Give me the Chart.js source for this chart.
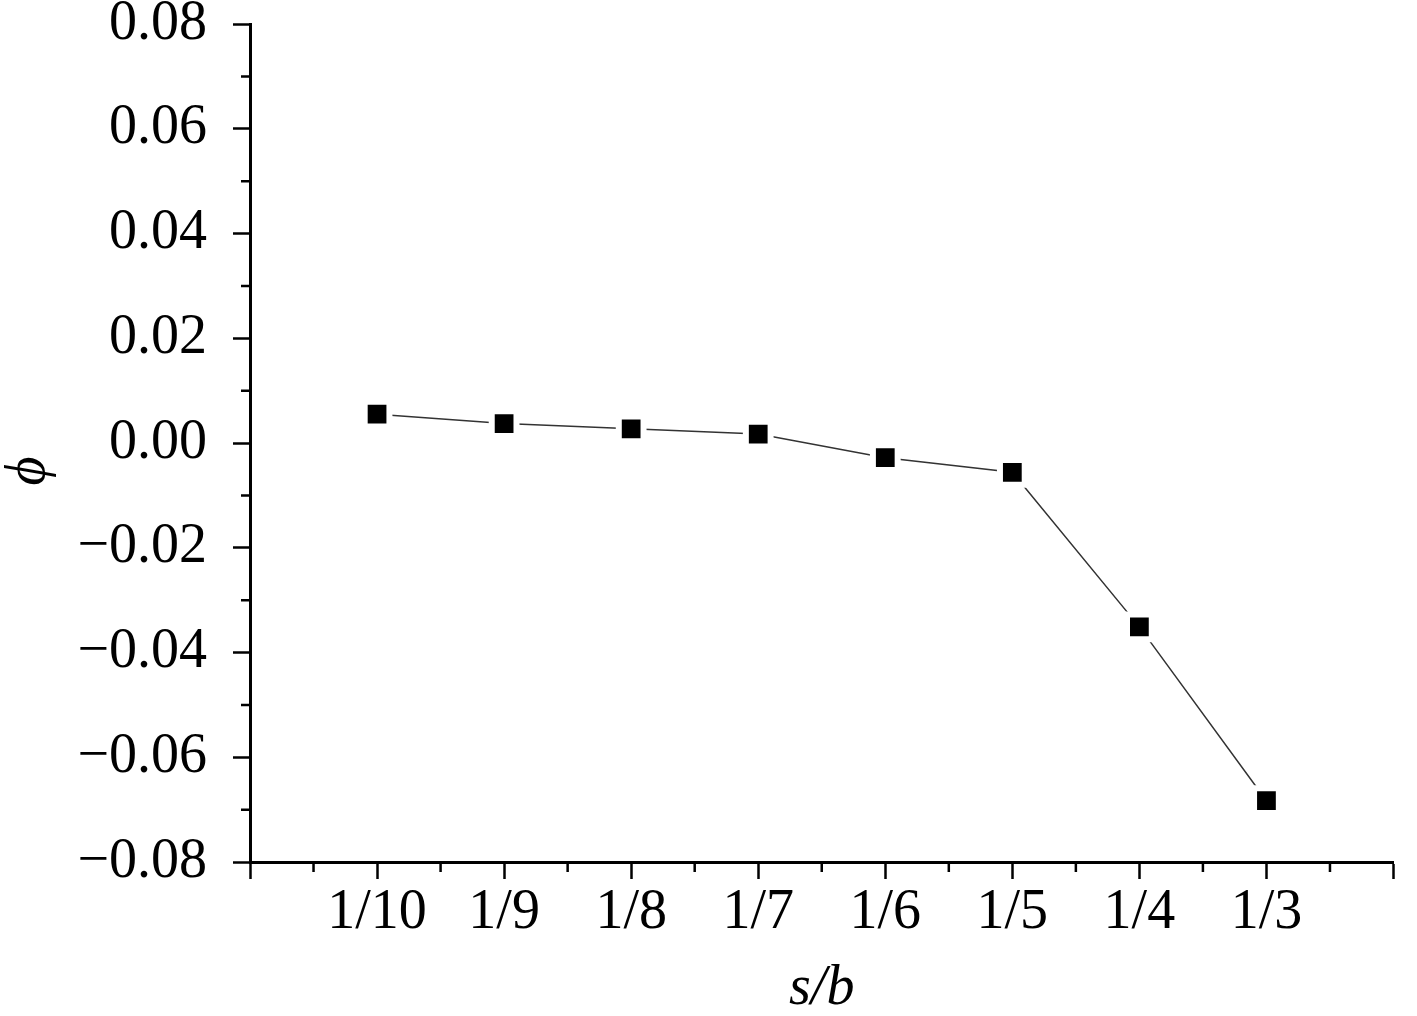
<!DOCTYPE html>
<html>
<head>
<meta charset="utf-8">
<script src="https://cdn.jsdelivr.net/npm/chart.js@4"></script>
<style>
  html, body { margin: 0; padding: 0; background: #ffffff; }
  #wrap { width: 1417px; height: 1016px; }
</style>
</head>
<body>
<div id="wrap"><canvas id="c" width="1417" height="1016"></canvas></div>
<script>
// ---- data ----
const categories = ['1/10', '1/9', '1/8', '1/7', '1/6', '1/5', '1/4', '1/3'];
const phiValues = [0.0055, 0.0037, 0.0027, 0.0017, -0.0028, -0.0056, -0.0351, -0.0683];
const yMin = -0.08, yMax = 0.08, yStep = 0.02;
const xMin = 0, xMax = 9;
const xTitle = 's/b';
const yTitle = '\u03D5    ';

const points = categories.map((c, i) => ({ x: i + 1, y: phiValues[i] }));

const FONT = "'Liberation Serif', 'Times New Roman', serif";

// minor tick marks drawn through the library's own scales
const minorTicks = {
  id: 'minorTicks',
  afterDraw(chart) {
    const ctx = chart.ctx;
    const xs = chart.scales.x, ys = chart.scales.y;
    ctx.save();
    ctx.strokeStyle = '#000';
    ctx.lineWidth = 2.5;
    ctx.beginPath();
    for (let v = xMin + 0.5; v < xMax; v += 1) {
      const px = xs.getPixelForValue(v);
      ctx.moveTo(px, xs.top);
      ctx.lineTo(px, xs.top + 10);
    }
    for (let k = 0; k < (yMax - yMin) / yStep; k++) {
      const v = yMin + yStep * k + yStep / 2;
      const py = ys.getPixelForValue(v);
      ctx.moveTo(ys.right, py);
      ctx.lineTo(ys.right - 9, py);
    }
    ctx.stroke();
    ctx.restore();
  }
};

new Chart(document.getElementById('c'), {
  type: 'line',
  data: {
    datasets: [{
      data: points,
      borderColor: '#333333',
      borderWidth: 1.5,
      pointStyle: 'rect',
      pointRadius: 17.5,
      pointBackgroundColor: '#000000',
      pointBorderColor: '#ffffff',
      pointBorderWidth: 6,
      tension: 0
    }]
  },
  options: {
    responsive: false,
    animation: false,
    events: [],
    layout: { padding: { top: 24, right: 22, left: 0, bottom: 0 } },
    plugins: { legend: { display: false }, tooltip: { enabled: false } },
    scales: {
      x: {
        type: 'linear',
        min: xMin,
        max: xMax,
        afterFit(scale) { scale.height = 154; scale.paddingLeft = 0; scale.paddingRight = 0; },
        ticks: {
          stepSize: 1,
          autoSkip: false,
          maxRotation: 0,
          padding: 6,
          color: '#000',
          font: { family: FONT, size: 56, lineHeight: 1 },
          callback(v) { return (v >= 1 && v <= categories.length) ? categories[v - 1] : ''; }
        },
        grid: { drawOnChartArea: false, tickLength: 17, tickWidth: 2.5, tickColor: '#000' },
        border: { color: '#000', width: 3 },
        title: {
          display: true, text: xTitle, color: '#000',
          font: { family: FONT, size: 56, style: 'italic', lineHeight: 1 },
          padding: { top: 0, bottom: -1 }
        }
      },
      y: {
        min: yMin,
        max: yMax,
        afterFit(scale) { scale.width = 250; scale.paddingTop = 0; scale.paddingBottom = 0; },
        ticks: {
          stepSize: yStep,
          padding: 26,
          color: '#000',
          font: { family: FONT, size: 56, lineHeight: 1 },
          callback(v) {
            const r = Math.round(v * 100) / 100;
            if (Math.abs(r) < 1e-9) return '0.00';
            return (r < 0 ? '\u2212' : '') + Math.abs(r).toFixed(2);
          }
        },
        grid: { drawOnChartArea: false, tickLength: 17, tickWidth: 2.5, tickColor: '#000' },
        border: { color: '#000', width: 3 },
        title: {
          display: true, text: yTitle, color: '#000',
          font: { family: FONT, size: 56, style: 'italic', lineHeight: 1 },
          padding: { top: 1, bottom: 0 }
        }
      }
    }
  },
  plugins: [minorTicks]
});
</script>
</body>
</html>
